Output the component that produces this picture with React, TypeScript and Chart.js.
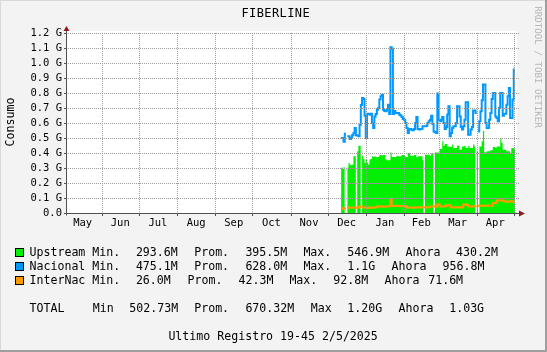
import { useEffect, useRef } from 'react';
import { Chart, registerables } from 'chart.js';

Chart.register(...registerables);

// ---------- data (values in Mbit, one value per day, day index = days since 1 May 2024) ----------
const START_DAY = 225;

const UPSTREAM: (number | null)[] = [
  304, 294, 306, null, null, 304, 333, 322, 318, 322,
  378, 378, null, 411, 449, 449, null, 382, 362, 333,
  360, 333, 322, 356, 360, 378, 373, 378, 373, 373,
  373, 387, 387, 384, 387, 387, 356, 351, 351, 351,
  404, 373, 373, 373, 373, 382, 378, 378, 378, 387,
  387, 387, 373, 373, 400, 400, 382, 382, 382, 387,
  387, 371, 378, 378, 378, 378, 351, null, 389, 389,
  389, 389, 382, 396, 396, null, 404, 404, 404, 404,
  427, 427, 478, 449, 460, 460, 444, 444, 440, 440,
  456, 433, 433, 433, 449, 449, 422, 422, 444, 444,
  449, 433, 433, 449, 433, 433, 433, 456, 444, null,
  411, null, 444, 444, 478, 547, 404, 404, 411, 411,
  411, 418, 418, 440, 440, 433, 444, 444, 444, 500,
  467, 422, 422, 422, 411, 411, 411, 400, 433, 433,
  430,
];

const NACIONAL: (number | null)[] = [
  500, 500, 475, 529, null, 511, 511, 493, 500, 520,
  533, 567, 518, 516, 512, 589, 720, 767, 760, 649,
  500, 662, 662, 655, 662, 600, 567, 644, 660, 689,
  700, 756, 778, 789, 689, 680, 678, 690, 722, 660,
  1105, 1095, 660, 680, 667, 667, 667, 656, 650, 640,
  627, 622, 600, 567, 533, 560, 560, 551, 551, 560,
  600, 640, 560, 556, 560, 560, 578, 578, 578, 582,
  600, 611, 622, 649, 593, 544, 538, 533, 796, 622,
  611, 622, 640, 600, 560, 573, 656, 711, 511, 533,
  567, 578, 578, 600, 711, 711, 644, 573, 556, 578,
  622, 738, 738, 522, 522, 556, 573, 684, 684, 667,
  null, 544, 611, 678, 751, 856, 856, 600, 567, 567,
  622, 667, 760, 800, 800, 644, 633, 611, 700, 800,
  800, 649, 662, 662, 722, 778, 833, 633, 633, 756,
  957,
];

const INTERNAC: (number | null)[] = [
  26, 31, 30, 31, null,
  36, 35, 36, 37, 36, 35, 36, 34, 36, 38,
  44, 44, 42,
  36, 35, 36, 36, 34, 36, 37, 36, 35, 36, 38,
  44, 43, 44, 45, 44, 42, 44, 44, 43, 44, 45,
  93, 47,
  47, 46, 47, 48, 47, 45, 47, 46, 47, 47, 46,
  36, 35, 36, 37, 36, 36, 35, 36, 37,
  38, 38, 37, 38, 39, 38, 37, 38, 38, 39,
  44, 43, 44, 44, 45, 44,
  58, 56,
  44, 43, 44, 44, 45,
  51, 50, 51, 52,
  38, 37, 38, 38, 36, 38, 39, 38, 37, 38,
  56, 55, 56, 54,
  44, 44, 43, 44, 45, 44, 44,
  null,
  49, 48, 49, 50, 49, 48, 49, 49, 50, 49, 48, 49,
  67, 67, 66,
  84, 83, 84, 85, 84, 82,
  76, 77, 76, 75, 76,
  78, 78, 77, 72,
];

const MONTHS = ['May', 'Jun', 'Jul', 'Aug', 'Sep', 'Oct', 'Nov', 'Dec', 'Jan', 'Feb', 'Mar', 'Apr'];
const MONTH_START = [0, 31, 61, 92, 123, 153, 184, 214, 245, 276, 304, 335, 365];
const X_MIN = 2;
const X_MAX = 366.8;
const Y_MAX = 1200;
const Y_STEP = 100;

const TITLE = 'FIBERLINE';
const Y_TITLE = 'Consumo';
const WATERMARK = 'RRDTOOL / TOBI OETIKER';
const SERIES_NAMES = ['Upstream', 'Nacional', 'InterNac'];
const STAT_MIN = ['293.6M', '475.1M', '26.0M'];
const STAT_AVG = ['395.5M', '628.0M', '42.3M'];
const STAT_MAX = ['546.9M', '1.1G', '92.8M'];
const STAT_NOW = ['430.2M', '956.8M', '71.6M'];
const TOTAL_ROW = ['TOTAL', 'Min', '502.73M', 'Prom.', '670.32M', 'Max', '1.20G', 'Ahora', '1.03G'];
const FOOTER = 'Ultimo Registro 19-45 2/5/2025';

// ---------- styles ----------
const GREEN = '#00f000';
const BLUE = '#0099ff';
const ORANGE = '#ff9900';
const BG = '#f3f3f3';
const GRID = '#9c9c9c';
const AXIS = '#505050';
const ARROW = '#8b1a1a';
const FONT = '"DejaVu Sans Mono", monospace';

const ROW_X = [
  [29.5, 92.3, 135.9, 194.2, 245.4, 303.4, 347.3, 405.5, 456.1],
  [29.5, 92.3, 135.9, 194.2, 245.4, 303.4, 347.3, 391.6, 442.5],
  [29.5, 92.3, 135.9, 187.5, 238.5, 289.4, 333.3, 384.6, 428.2],
];
const TOTAL_X = [29.5, 92.7, 129.3, 194.2, 245.4, 310.7, 347.3, 398.6, 449.2];
const ROW_CY = [252.3, 266.3, 280.3];
const TOTAL_CY = 308.3;

function toSteps(values: (number | null)[]) {
  const pts: { x: number; y: number | null }[] = [];
  values.forEach((v, i) => {
    const d = START_DAY + i;
    if (v == null) pts.push({ x: d + 0.5, y: null });
    else {
      pts.push({ x: d, y: v });
      pts.push({ x: d + 1, y: v });
    }
  });
  return pts;
}

const BOUNDARIES = MONTH_START.filter((d) => d > X_MIN && d <= X_MAX);
const LABEL_AT = new Map<number, string>();
MONTHS.forEach((m, i) => LABEL_AT.set((MONTH_START[i] + MONTH_START[i + 1]) / 2, m));
const X_TICKS = [...BOUNDARIES, ...Array.from(LABEL_AT.keys())].sort((a, b) => a - b);

function drawGrid(chart: any) {
  const { ctx, chartArea: a } = chart;
  const xs = chart.scales.x;
  const ys = chart.scales.y;
  const left = Math.round(a.left);
  const right = Math.round(a.right);
  const top = Math.round(a.top);
  const bottom = Math.round(a.bottom);
  const yTicks: number[] = [];
  for (let v = Y_STEP; v <= Y_MAX; v += Y_STEP) yTicks.push(v);
  ctx.save();
  ctx.setLineDash([]);
  ctx.globalAlpha = 1;
  ctx.fillStyle = GRID;
  yTicks.forEach((v) => {
    const y = Math.round(ys.getPixelForValue(v));
    for (let x = left + 2; x <= right + 2; x += 2) ctx.fillRect(x, y, 1, 1);
  });
  BOUNDARIES.forEach((d) => {
    const x = Math.round(xs.getPixelForValue(d));
    for (let y = top; y < bottom; y += 2) ctx.fillRect(x, y, 1, 1);
  });
  ctx.fillStyle = AXIS;
  [0, ...yTicks].forEach((v) => {
    const y = Math.round(ys.getPixelForValue(v));
    ctx.fillRect(left - 2, y, 2, 1);
  });
  BOUNDARIES.forEach((d) => {
    const x = Math.round(xs.getPixelForValue(d));
    ctx.fillRect(x, bottom + 1, 1, 2);
  });
  ctx.restore();
}

const decor = {
  id: 'decor',
  beforeDraw(chart: any) {
    const { ctx, chartArea: a } = chart;
    ctx.save();
    ctx.fillStyle = BG;
    ctx.fillRect(0, 0, 547, 352);
    ctx.fillStyle = '#d8d8d8';
    ctx.fillRect(0, 0, 547, 1);
    ctx.fillRect(0, 0, 1, 352);
    ctx.fillStyle = '#9e9e9e';
    ctx.fillRect(0, 350, 547, 2);
    ctx.fillRect(545, 0, 2, 352);
    ctx.fillStyle = '#ffffff';
    ctx.fillRect(a.left, a.top - 2, a.right - a.left + 1, a.bottom - a.top + 2);
    ctx.restore();
  },
  afterDraw(chart: any) {
    drawGrid(chart);
    const { ctx, chartArea: a } = chart;
    const x0 = Math.round(a.left) + 0.5;
    const y0 = Math.round(a.bottom) + 0.5;
    ctx.save();
    ctx.strokeStyle = AXIS;
    ctx.lineWidth = 1;
    ctx.beginPath();
    ctx.moveTo(x0, y0 + 2);
    ctx.lineTo(x0, a.top - 2);
    ctx.moveTo(x0 - 2, y0);
    ctx.lineTo(a.right + 3, y0);
    ctx.stroke();
    ctx.fillStyle = ARROW;
    ctx.beginPath();
    ctx.moveTo(x0, a.top - 7);
    ctx.lineTo(x0 - 3, a.top - 2);
    ctx.lineTo(x0 + 3, a.top - 2);
    ctx.closePath();
    ctx.fill();
    ctx.beginPath();
    ctx.moveTo(a.right + 9, y0);
    ctx.lineTo(a.right + 3, y0 - 3);
    ctx.lineTo(a.right + 3, y0 + 3);
    ctx.closePath();
    ctx.fill();
    ctx.restore();
  },
};

export default function App() {
  const ref = useRef<HTMLCanvasElement>(null);

  useEffect(() => {
    document.body.style.margin = '0';
    const canvas = ref.current;
    if (!canvas) return;
    const chart = new Chart(canvas, {
      type: 'line',
      data: {
        datasets: [
          {
            label: SERIES_NAMES[2],
            data: toSteps(INTERNAC),
            borderColor: ORANGE,
            borderWidth: 2,
            pointRadius: 0,
            fill: false,
            spanGaps: false,
            order: 1,
          },
          {
            label: SERIES_NAMES[1],
            data: toSteps(NACIONAL),
            borderColor: BLUE,
            borderWidth: 2,
            pointRadius: 0,
            fill: false,
            spanGaps: false,
            order: 2,
          },
          {
            label: SERIES_NAMES[0],
            data: toSteps(UPSTREAM),
            borderColor: GREEN,
            borderWidth: 0,
            backgroundColor: GREEN,
            pointRadius: 0,
            fill: 'origin',
            spanGaps: false,
            order: 3,
          },
        ],
      },
      options: {
        animation: false,
        responsive: false,
        devicePixelRatio: 1,
        events: [],
        layout: { padding: { left: 0, right: 31, top: 33, bottom: 119 } },
        elements: { line: { tension: 0, borderJoinStyle: 'miter' } },
        plugins: {
          legend: { display: false },
          tooltip: { enabled: false },
          title: { display: false },
        },
        scales: {
          x: {
            type: 'linear',
            min: X_MIN,
            max: X_MAX,
            afterBuildTicks: (s: any) => {
              s.ticks = X_TICKS.map((v) => ({ value: v }));
            },
            afterFit: (s: any) => {
              s.height = 20;
            },
            border: { display: false },
            grid: { display: false, drawTicks: true, tickLength: 2 },
            ticks: {
              autoSkip: false,
              maxRotation: 0,
              minRotation: 0,
              padding: 1.5,
              color: '#000',
              font: { family: FONT, size: 10.5 },
              callback: (v: any) => LABEL_AT.get(Number(v)) ?? '',
            },
          },
          y: {
            type: 'linear',
            min: 0,
            max: Y_MAX,
            afterFit: (s: any) => {
              s.width = 66;
            },
            border: { display: false },
            grid: { display: false, drawTicks: true, tickLength: 2 },
            ticks: {
              autoSkip: false,
              stepSize: Y_STEP,
              padding: 2,
              color: '#000',
              font: { family: FONT, size: 10.5 },
              callback: (v: any) => (Number(v) === 0 ? '0.0' : (Number(v) / 1000).toFixed(1) + ' G'),
            },
          },
        },
      },
      plugins: [decor],
    } as any);
    return () => chart.destroy();
  }, []);

  const textStyle = (left: number, cy: number, size = 11.6): any => ({
    position: 'absolute',
    left,
    top: cy - 7,
    lineHeight: '14px',
    fontSize: size,
    whiteSpace: 'pre',
  });

  const colors = [GREEN, BLUE, ORANGE];

  return (
    <div
      style={{
        position: 'absolute',
        left: 0,
        top: 0,
        width: 547,
        height: 352,
        fontFamily: FONT,
        color: '#000',
        overflow: 'hidden',
      }}
    >
      <canvas ref={ref} width={547} height={352} style={{ position: 'absolute', left: 0, top: 0 }} />
      <div style={{ ...textStyle(241.5, 13.3, 12), letterSpacing: '0.4px' }}>{TITLE}</div>
      <div
        style={{
          position: 'absolute',
          left: 10 - 40,
          top: 121.5 - 7,
          width: 80,
          textAlign: 'center',
          lineHeight: '14px',
          fontSize: 11.6,
          transform: 'rotate(-90deg)',
        }}
      >
        {Y_TITLE}
      </div>
      <div
        style={{
          position: 'absolute',
          left: 538 - 80,
          top: 66.5 - 6,
          width: 160,
          textAlign: 'center',
          lineHeight: '12px',
          fontSize: 9.2,
          color: '#b4b4b4',
          transform: 'rotate(90deg)',
        }}
      >
        {WATERMARK}
      </div>
      {SERIES_NAMES.map((name, r) => {
        const cells = [name, 'Min.', STAT_MIN[r], 'Prom.', STAT_AVG[r], 'Max.', STAT_MAX[r], 'Ahora', STAT_NOW[r]];
        return (
          <div key={name}>
            <div
              style={{
                position: 'absolute',
                left: 15,
                top: ROW_CY[r] - 4.5,
                width: 9,
                height: 9,
                boxSizing: 'border-box',
                border: '1px solid #000',
                background: colors[r],
              }}
            />
            {cells.map((t, i) => (
              <span key={i} style={textStyle(ROW_X[r][i], ROW_CY[r])}>
                {t}
              </span>
            ))}
          </div>
        );
      })}
      {TOTAL_ROW.map((t, i) => (
        <span key={'t' + i} style={textStyle(TOTAL_X[i], TOTAL_CY)}>
          {t}
        </span>
      ))}
      <div style={textStyle(168.4, 336.3)}>{FOOTER}</div>
    </div>
  );
}
